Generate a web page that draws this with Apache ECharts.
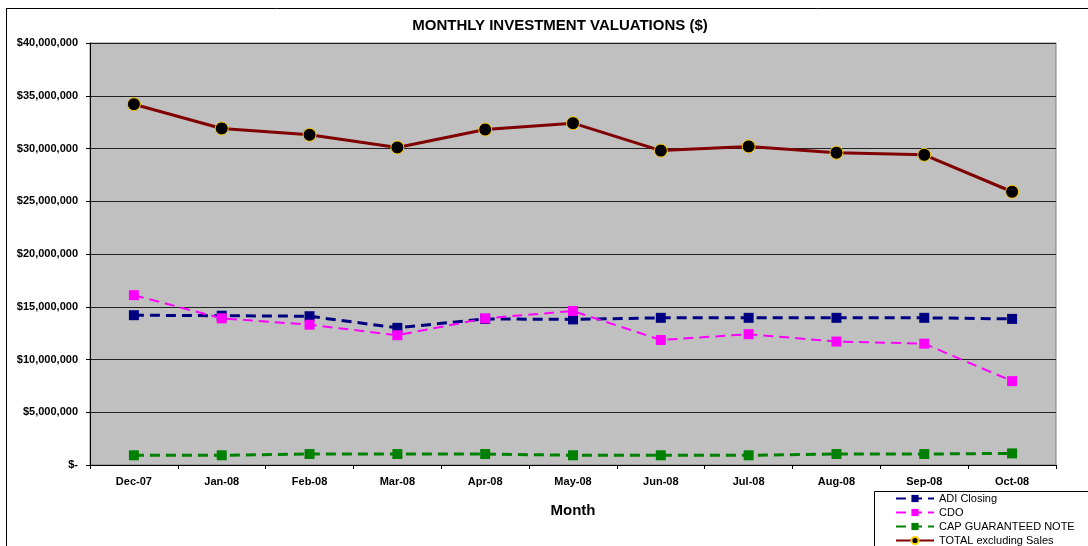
<!DOCTYPE html>
<html>
<head>
<meta charset="utf-8">
<script src="https://cdn.jsdelivr.net/npm/echarts@6/dist/echarts.min.js"></script>
<style>
html,body{margin:0;padding:0;background:#fff;}
#c{width:1088px;height:546px;}
</style>
</head>
<body>
<div id="c"></div>
<script>
const months = ['Dec-07','Jan-08','Feb-08','Mar-08','Apr-08','May-08','Jun-08','Jul-08','Aug-08','Sep-08','Oct-08'];
const adiClosing = [14200000,14150000,14100000,13000000,13850000,13800000,13950000,13950000,13950000,13950000,13850000];
const cdo = [16100000,13900000,13300000,12300000,13900000,14600000,11850000,12400000,11700000,11500000,7950000];
const capNote = [920000,920000,1040000,1040000,1040000,920000,920000,920000,1040000,1040000,1100000];
const totalExSales = [34200000,31900000,31300000,30100000,31800000,32400000,29800000,30200000,29600000,29400000,25900000];

const font = 'Liberation Sans, Arial, sans-serif';

function fmtMoney(v){
  if (v === 0) return '$-';
  return '$' + v.toString().replace(/\B(?=(\d{3})+(?!\d))/g, ',');
}

const chart = echarts.init(document.getElementById('c'), null, {renderer:'canvas'});
chart.setOption({
  backgroundColor: '#ffffff',
  animation: false,
  textStyle: {fontFamily: font},
  title: {
    text: 'MONTHLY INVESTMENT VALUATIONS ($)',
    left: 555, top: 13, textAlign: 'center',
    textStyle: {fontFamily: font, fontSize: 15, fontWeight: 'bold', color: '#000'}
  },
  graphic: [
    {type:'line', shape:{x1:6,y1:8.5,x2:1088,y2:8.5}, style:{stroke:'#000', lineWidth:1}},
    {type:'line', shape:{x1:6.5,y1:8,x2:6.5,y2:546}, style:{stroke:'#000', lineWidth:1}},
    {type:'rect', shape:{x:874.5,y:491.5,width:220,height:60}, style:{fill:'#fff', stroke:'#000', lineWidth:1}, z:5}
  ],
  legend: {
    left: 895, top: 493, height: 70, orient: 'vertical', itemGap: 3,
    itemWidth: 38, itemHeight: 9, padding: 0, z: 10,
    textStyle: {fontFamily: font, fontSize: 11, color: '#000', padding:[0,0,0,0]},
    data: ['ADI Closing','CDO','CAP GUARANTEED NOTE','TOTAL excluding Sales']
  },
  grid: {left: 90, right: 32, top: 43, bottom: 81, show: true, backgroundColor: '#c0c0c0', borderColor: '#808080', borderWidth: 1},
  xAxis: {
    type: 'category', data: months, boundaryGap: true,
    name: 'Month', nameLocation: 'middle', nameGap: 38,
    nameTextStyle: {fontFamily: font, fontSize: 15, fontWeight: 'bold', color: '#000'},
    axisLine: {lineStyle: {color: '#000', width: 1}},
    axisTick: {show: true, length: 4, lineStyle: {color: '#000'}},
    axisLabel: {fontFamily: font, fontSize: 11, fontWeight: 'bold', color: '#000', margin: 11}
  },
  yAxis: {
    type: 'value', min: 0, max: 40000000, interval: 5000000,
    axisLine: {show: true, lineStyle: {color: '#000', width: 1}},
    axisTick: {show: true, length: 4, lineStyle: {color: '#000'}},
    splitLine: {show: true, lineStyle: {color: '#222', width: 1}},
    axisLabel: {fontFamily: font, fontSize: 11, fontWeight: 'bold', color: '#000', margin: 12, formatter: fmtMoney}
  },
  series: [
    {name:'ADI Closing', type:'line', data: adiClosing, symbol:'rect', symbolSize: 10,
     lineStyle:{color:'#000080', width:3, type:[10,6]}, itemStyle:{color:'#000080'}, z:3},
    {name:'CDO', type:'line', data: cdo, symbol:'rect', symbolSize: 10,
     lineStyle:{color:'#ff00ff', width:2, type:[10,6]}, itemStyle:{color:'#ff00ff'}, z:4},
    {name:'CAP GUARANTEED NOTE', type:'line', data: capNote, symbol:'rect', symbolSize: 10,
     lineStyle:{color:'#008000', width:3, type:[10,6]}, itemStyle:{color:'#008000'}, z:3},
    {name:'TOTAL excluding Sales', type:'line', data: totalExSales, symbol:'circle', symbolSize: 13,
     lineStyle:{color:'#800000', width:3}, itemStyle:{color:'#000', borderColor:'#ffcc00', borderWidth:1}, z:5}
  ]
});
</script>
</body>
</html>
